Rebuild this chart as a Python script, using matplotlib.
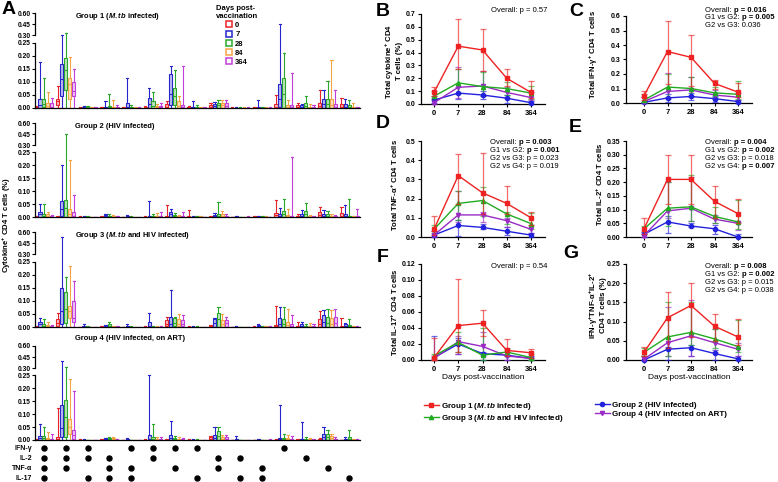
import numpy as np
import matplotlib
matplotlib.use('Agg')
import matplotlib.pyplot as plt
from matplotlib.lines import Line2D
from matplotlib.colors import to_rgba

plt.rcParams['font.family'] = ['Liberation Sans', 'DejaVu Sans']
plt.rcParams['font.weight'] = 'bold'
plt.rcParams['mathtext.fontset'] = 'custom'
plt.rcParams['mathtext.rm'] = 'Liberation Sans:bold'
plt.rcParams['mathtext.bf'] = 'Liberation Sans:bold'
plt.rcParams['mathtext.it'] = 'Liberation Sans:bold:italic'
plt.rcParams['axes.linewidth'] = 0.9

# --- Panel A: box plots per cytokine combination ---
days = ['0', '7', '28', '84', '364']
day_colors = ['#e8242b', '#2626cc', '#2aa82a', '#f4a444', '#c23ddb']
cytokines = ['IFN-γ', 'IL-2', 'TNF-α', 'IL-17']
combo_ifn = [1, 1, 1, 0, 1, 1, 1, 1, 0, 0, 0, 1, 0, 0, 0]
combo_il2 = [1, 1, 1, 1, 0, 1, 0, 0, 1, 1, 0, 0, 1, 0, 0]
combo_tnf = [1, 1, 0, 1, 1, 0, 1, 0, 1, 0, 1, 0, 0, 1, 0]
combo_il17 = [1, 0, 1, 1, 1, 0, 0, 1, 0, 1, 1, 0, 0, 0, 1]
group_titles = ['Group 1 ($\\mathit{M.tb}$ infected)', 'Group 2 (HIV infected)',
                'Group 3 ($\\mathit{M.tb}$ and HIV infected)', 'Group 4 (HIV infected, on ART)']

# rows = 15 combinations, columns = days 0, 7, 28, 84, 364
g1_hi = [[0.008, 0.175, 0.115, 0.06, 0.04], [0.085, 0.31, 0.33, 0.195, 0.15], [0.002, 0.008, 0.006, 0.002, 0.002],
         [0.004, 0.025, 0.055, 0.03, 0.01], [0.004, 0.113, 0.012, 0.005, 0.003], [0.007, 0.075, 0.06, 0.015, 0.02],
         [0.025, 0.16, 0.145, 0.045, 0.16], [0.007, 0.027, 0.012, 0.003, 0.002], [0.02, 0.022, 0.03, 0.03, 0.03],
         [0.003, 0.003, 0.003, 0.003, 0.003], [0.005, 0.03, 0.005, 0.003, 0.002], [0.05, 0.45, 0.21, 0.03, 0.135],
         [0.02, 0.015, 0.045, 0.015, 0.01], [0.07, 0.07, 0.105, 0.185, 0.07], [0.04, 0.035, 0.03, 0.02, 0.005]]
g1_q3 = [[0.005, 0.033, 0.033, 0.02, 0.02], [0.035, 0.17, 0.19, 0.115, 0.10], [0, 0.005, 0.002, 0, 0],
         [0.002, 0.005, 0.008, 0.005, 0.002], [0.002, 0.02, 0.004, 0.002, 0.001], [0.003, 0.04, 0.025, 0.006, 0.008],
         [0.015, 0.13, 0.075, 0.025, 0.01], [0.002, 0.005, 0.003, 0, 0], [0.012, 0.015, 0.02, 0.02, 0.018],
         [0, 0, 0, 0, 0], [0.002, 0.005, 0.002, 0, 0], [0.015, 0.09, 0.115, 0.01, 0.01],
         [0.01, 0.01, 0.02, 0.005, 0.003], [0.02, 0.035, 0.035, 0.035, 0.015], [0.015, 0.015, 0.01, 0.005, 0.002]]
g1_med = [[0.002, 0.01, 0.015, 0.008, 0.005], [0.025, 0.11, 0.145, 0.09, 0.065], [0, 0.002, 0, 0, 0],
          [0, 0.002, 0.003, 0.002, 0], [0, 0.005, 0.001, 0, 0], [0.001, 0.015, 0.008, 0.002, 0.002],
          [0.005, 0.055, 0.045, 0.008, 0.003], [0, 0.002, 0, 0, 0], [0.005, 0.008, 0.01, 0.01, 0.008],
          [0, 0, 0, 0, 0], [0, 0.001, 0, 0, 0], [0.004, 0.035, 0.055, 0.004, 0.003],
          [0.003, 0.004, 0.008, 0.002, 0], [0.006, 0.015, 0.015, 0.01, 0.005], [0.005, 0.005, 0.003, 0.001, 0]]
g1_q1 = [[0, 0, 0.002, 0, 0], [0.012, 0.045, 0.07, 0.035, 0.045], [0, 0, 0, 0, 0], [0, 0, 0, 0, 0], [0, 0, 0, 0, 0],
         [0, 0, 0, 0, 0], [0, 0.01, 0.01, 0, 0], [0, 0, 0, 0, 0], [0, 0, 0, 0, 0], [0, 0, 0, 0, 0], [0, 0, 0, 0, 0],
         [0, 0.005, 0, 0, 0], [0, 0, 0, 0, 0], [0, 0, 0, 0, 0], [0, 0, 0, 0, 0]]

g2_hi = [[0.003, 0.05, 0.052, 0.02, 0.008], [0.005, 0.20, 0.45, 0.22, 0.085], [0.002, 0.003, 0.002, 0.001, 0.001],
         [0.002, 0.01, 0.012, 0.008, 0.005], [0.001, 0.008, 0.002, 0.001, 0.001], [0.003, 0.063, 0.01, 0.015, 0.02],
         [0.045, 0.03, 0.015, 0.008, 0.02], [0.028, 0.003, 0.005, 0.002, 0.001], [0.003, 0.015, 0.058, 0.025, 0.01],
         [0.001, 0.005, 0.001, 0.001, 0.003], [0.005, 0.005, 0.005, 0.002, 0.001], [0.066, 0.035, 0.07, 0.03, 0.23],
         [0.012, 0.028, 0.055, 0.008, 0.005], [0.04, 0.028, 0.025, 0.012, 0.008], [0.04, 0.045, 0.07, 0.005, 0.03]]
g2_q3 = [[0.001, 0.02, 0.012, 0.01, 0.003], [0.002, 0.06, 0.065, 0.03, 0.02], [0, 0, 0, 0, 0],
         [0, 0.008, 0.005, 0.004, 0.002], [0, 0.004, 0, 0, 0], [0.001, 0.005, 0.004, 0.005, 0.004],
         [0.005, 0.02, 0.008, 0.003, 0.004], [0.003, 0.001, 0.002, 0, 0], [0.001, 0.008, 0.012, 0.01, 0.004],
         [0, 0.002, 0, 0, 0], [0.002, 0.002, 0.002, 0, 0], [0.016, 0.01, 0.025, 0.008, 0.004],
         [0.003, 0.01, 0.025, 0.003, 0.002], [0.02, 0.012, 0.01, 0.005, 0.003], [0.015, 0.01, 0.005, 0.002, 0.004]]
g2_med = [[0, 0.01, 0.004, 0.005, 0.001], [0.001, 0.03, 0.035, 0.01, 0.005], [0, 0, 0, 0, 0],
          [0, 0.004, 0.002, 0.002, 0], [0, 0.002, 0, 0, 0], [0, 0.002, 0.001, 0.002, 0.001],
          [0.002, 0.01, 0.003, 0.001, 0.002], [0.001, 0, 0, 0, 0], [0, 0.004, 0.005, 0.004, 0.002],
          [0, 0, 0, 0, 0], [0.001, 0.001, 0.001, 0, 0], [0.006, 0.004, 0.01, 0.003, 0.002],
          [0.001, 0.005, 0.01, 0.001, 0], [0.008, 0.005, 0.004, 0.002, 0.001], [0.005, 0.004, 0.002, 0, 0.001]]
g2_q1 = [[0, 0, 0, 0, 0], [0, 0.005, 0, 0, 0], [0, 0, 0, 0, 0], [0, 0, 0, 0, 0], [0, 0, 0, 0, 0], [0, 0, 0, 0, 0],
         [0, 0, 0, 0, 0], [0, 0, 0, 0, 0], [0, 0, 0, 0, 0], [0, 0, 0, 0, 0], [0, 0, 0, 0, 0], [0, 0, 0, 0, 0],
         [0, 0, 0, 0, 0], [0, 0, 0, 0, 0], [0, 0, 0, 0, 0]]

g3_hi = [[0.003, 0.035, 0.032, 0.018, 0.008], [0.055, 0.53, 0.19, 0.235, 0.175], [0.001, 0.012, 0.002, 0.001, 0.001],
         [0.002, 0.008, 0.02, 0.005, 0.005], [0.001, 0.012, 0.003, 0.001, 0.001], [0.003, 0.052, 0.003, 0.003, 0.003],
         [0.038, 0.14, 0.038, 0.05, 0.045], [0.003, 0.003, 0.003, 0.001, 0.001], [0.008, 0.035, 0.078, 0.05, 0.04],
         [0.001, 0.003, 0.001, 0.001, 0.001], [0.003, 0.012, 0.005, 0.005, 0.002], [0.08, 0.075, 0.075, 0.07, 0.045],
         [0.018, 0.018, 0.012, 0.015, 0.01], [0.06, 0.065, 0.07, 0.065, 0.07], [0.035, 0.015, 0.032, 0.005, 0.003]]
g3_q3 = [[0.001, 0.02, 0.012, 0.006, 0.003], [0.03, 0.15, 0.135, 0.08, 0.10], [0, 0.004, 0, 0, 0],
         [0, 0.003, 0.01, 0.002, 0.002], [0, 0.005, 0, 0, 0], [0.001, 0.018, 0.001, 0.001, 0.001],
         [0.025, 0.04, 0.035, 0.03, 0.028], [0.001, 0.001, 0.001, 0, 0], [0.003, 0.032, 0.055, 0.025, 0.025],
         [0, 0, 0, 0, 0], [0.001, 0.006, 0.002, 0.002, 0], [0.008, 0.035, 0.03, 0.02, 0.01],
         [0.005, 0.01, 0.005, 0.005, 0.004], [0.03, 0.045, 0.04, 0.035, 0.04], [0.005, 0.01, 0.008, 0.002, 0.001]]
g3_med = [[0, 0.01, 0.005, 0.002, 0.001], [0.015, 0.06, 0.07, 0.06, 0.035], [0, 0.001, 0, 0, 0],
          [0, 0.001, 0.005, 0.001, 0], [0, 0.002, 0, 0, 0], [0, 0.005, 0, 0, 0],
          [0.01, 0.01, 0.015, 0.01, 0.01], [0, 0, 0, 0, 0], [0.001, 0.015, 0.03, 0.01, 0.015],
          [0, 0, 0, 0, 0], [0, 0.002, 0.001, 0.001, 0], [0.003, 0.01, 0.01, 0.006, 0.003],
          [0.002, 0.004, 0.002, 0.002, 0.001], [0.01, 0.02, 0.015, 0.012, 0.015], [0.001, 0.004, 0.003, 0, 0]]
g3_q1 = [[0, 0, 0, 0, 0], [0.005, 0.01, 0.015, 0.035, 0.02], [0, 0, 0, 0, 0], [0, 0, 0, 0, 0], [0, 0, 0, 0, 0],
         [0, 0, 0, 0, 0], [0.005, 0, 0.005, 0.005, 0.003], [0, 0, 0, 0, 0], [0, 0, 0, 0, 0], [0, 0, 0, 0, 0],
         [0, 0, 0, 0, 0], [0, 0, 0, 0, 0], [0, 0, 0, 0, 0], [0, 0, 0, 0, 0], [0, 0, 0, 0, 0]]

g4_hi = [[0.003, 0.06, 0.05, 0.03, 0.025], [0.125, 0.40, 0.31, 0.235, 0.19], [0.003, 0.003, 0.001, 0.001, 0.001],
         [0.003, 0.008, 0.01, 0.01, 0.003], [0.001, 0.008, 0.001, 0.001, 0.001], [0.003, 0.25, 0.06, 0.012, 0.01],
         [0.005, 0.075, 0.015, 0.012, 0.008], [0.003, 0.003, 0.002, 0.001, 0.001], [0.015, 0.052, 0.05, 0.018, 0.02],
         [0.001, 0.015, 0.001, 0.001, 0.001], [0.001, 0.005, 0.001, 0.001, 0.003], [0.003, 0.135, 0.025, 0.02, 0.015],
         [0.005, 0.07, 0.012, 0.008, 0.003], [0.008, 0.05, 0.04, 0.025, 0.012], [0.001, 0.012, 0.038, 0.005, 0.003]]
g4_q3 = [[0.001, 0.015, 0.015, 0.008, 0.003], [0.01, 0.135, 0.155, 0.08, 0.04], [0.001, 0.001, 0, 0, 0],
         [0.001, 0.005, 0.006, 0.006, 0.001], [0, 0.004, 0, 0, 0], [0.001, 0.02, 0.01, 0.005, 0.004],
         [0.002, 0.02, 0.006, 0.005, 0.003], [0.001, 0.001, 0, 0, 0], [0.01, 0.02, 0.035, 0.012, 0.012],
         [0, 0.005, 0, 0, 0], [0, 0.002, 0, 0, 0.001], [0.001, 0.008, 0.008, 0.006, 0.005],
         [0.002, 0.005, 0.005, 0.003, 0.001], [0.003, 0.025, 0.025, 0.015, 0.005], [0, 0.004, 0.01, 0.002, 0.001]]
g4_med = [[0, 0.006, 0.008, 0.003, 0.001], [0.003, 0.045, 0.09, 0.05, 0.02], [0, 0, 0, 0, 0],
          [0, 0.002, 0.002, 0.002, 0], [0, 0.002, 0, 0, 0], [0, 0.005, 0.003, 0.002, 0.001],
          [0.001, 0.008, 0.002, 0.002, 0.001], [0, 0, 0, 0, 0], [0.004, 0.008, 0.015, 0.005, 0.005],
          [0, 0.002, 0, 0, 0], [0, 0, 0, 0, 0], [0, 0.003, 0.003, 0.002, 0.002],
          [0.001, 0.002, 0.002, 0.001, 0], [0.001, 0.01, 0.01, 0.006, 0.002], [0, 0.002, 0.004, 0.001, 0]]
g4_q1 = [[0, 0, 0, 0, 0], [0, 0.01, 0.01, 0.025, 0.003], [0, 0, 0, 0, 0], [0, 0, 0, 0, 0], [0, 0, 0, 0, 0],
         [0, 0, 0, 0, 0], [0, 0, 0, 0, 0], [0, 0, 0, 0, 0], [0, 0, 0, 0, 0], [0, 0, 0, 0, 0], [0, 0, 0, 0, 0],
         [0, 0, 0, 0, 0], [0, 0, 0, 0, 0], [0, 0, 0, 0, 0], [0, 0, 0, 0, 0]]

# --- Panels B-G: median with error bars, order G1, G2, G3, G4 ---
group_names = ['Group 1 ($\\mathit{M.tb}$ infected)', 'Group 2 (HIV infected)',
               'Group 3 ($\\mathit{M.tb}$ and HIV infected)', 'Group 4 (HIV infected on ART)']
group_colors = ['#ee2222', '#2222dd', '#22aa22', '#9a2bc4']
group_markers = ['s', 'o', '^', 'v']

b_med = [[0.09, 0.45, 0.42, 0.20, 0.09], [0.03, 0.085, 0.07, 0.045, 0.01],
         [0.06, 0.165, 0.135, 0.12, 0.085], [0.01, 0.13, 0.14, 0.09, 0.05]]
b_lo = [[0.06, 0.27, 0.26, 0.14, 0.05], [0.01, 0.04, 0.04, 0.01, 0.0],
        [0.04, 0.08, 0.06, 0.07, 0.04], [0.0, 0.05, 0.06, 0.05, 0.03]]
b_hi = [[0.13, 0.66, 0.585, 0.27, 0.18], [0.06, 0.13, 0.10, 0.07, 0.02],
        [0.10, 0.27, 0.25, 0.17, 0.14], [0.05, 0.285, 0.26, 0.13, 0.09]]

c_med = [[0.05, 0.355, 0.315, 0.135, 0.075], [0.005, 0.035, 0.045, 0.03, 0.01],
         [0.02, 0.11, 0.10, 0.07, 0.06], [0.01, 0.08, 0.09, 0.055, 0.04]]
c_lo = [[0.02, 0.13, 0.12, 0.10, 0.04], [0.0, 0.01, 0.02, 0.005, 0.0],
        [0.005, 0.04, 0.05, 0.04, 0.03], [0.0, 0.03, 0.04, 0.03, 0.02]]
c_hi = [[0.085, 0.565, 0.47, 0.16, 0.14], [0.04, 0.06, 0.07, 0.045, 0.02],
        [0.065, 0.20, 0.18, 0.11, 0.155], [0.04, 0.21, 0.18, 0.09, 0.07]]

d_med = [[0.04, 0.32, 0.23, 0.175, 0.10], [0.01, 0.06, 0.05, 0.03, 0.01],
         [0.04, 0.175, 0.19, 0.12, 0.07], [0.01, 0.115, 0.115, 0.085, 0.04]]
d_lo = [[0.01, 0.17, 0.12, 0.12, 0.06], [0.0, 0.005, 0.04, 0.01, 0.0],
        [0.02, 0.09, 0.11, 0.07, 0.04], [0.0, 0.08, 0.08, 0.05, 0.02]]
d_hi = [[0.11, 0.43, 0.435, 0.265, 0.13], [0.03, 0.09, 0.07, 0.05, 0.02],
        [0.065, 0.24, 0.26, 0.13, 0.125], [0.03, 0.24, 0.13, 0.10, 0.06]]

e_med = [[0.03, 0.21, 0.21, 0.13, 0.085], [0.01, 0.055, 0.04, 0.03, 0.0],
         [0.03, 0.105, 0.11, 0.075, 0.055], [0.005, 0.095, 0.105, 0.065, 0.05]]
e_lo = [[0.01, 0.12, 0.12, 0.07, 0.05], [0.0, 0.015, 0.035, 0.01, 0.0],
        [0.01, 0.04, 0.06, 0.05, 0.03], [0.0, 0.07, 0.06, 0.05, 0.025]]
e_hi = [[0.07, 0.30, 0.30, 0.185, 0.14], [0.02, 0.075, 0.05, 0.045, 0.01],
        [0.04, 0.20, 0.225, 0.11, 0.135], [0.02, 0.20, 0.22, 0.08, 0.055]]

f_med = [[0.003, 0.043, 0.046, 0.012, 0.009], [0.003, 0.02, 0.008, 0.006, 0.002],
         [0.005, 0.022, 0.006, 0.01, 0.003], [0.002, 0.023, 0.017, 0.005, 0.002]]
f_lo = [[0.0, 0.01, 0.03, 0.005, 0.002], [0.0, 0.008, 0.0, 0.0, 0.0],
        [0.0, 0.01, 0.0, 0.005, 0.0], [0.0, 0.008, 0.005, 0.0, 0.0]]
f_hi = [[0.027, 0.101, 0.063, 0.026, 0.014], [0.03, 0.028, 0.01, 0.01, 0.005],
        [0.008, 0.035, 0.04, 0.013, 0.007], [0.005, 0.03, 0.035, 0.015, 0.004]]

g_med = [[0.02, 0.11, 0.142, 0.088, 0.06], [0.0, 0.028, 0.032, 0.017, 0.003],
         [0.02, 0.06, 0.072, 0.055, 0.035], [0.002, 0.045, 0.063, 0.045, 0.028]]
g_lo = [[0.01, 0.03, 0.06, 0.05, 0.04], [0.0, 0.0, 0.01, 0.0, 0.0],
        [0.01, 0.01, 0.04, 0.03, 0.02], [0.0, 0.01, 0.01, 0.02, 0.01]]
g_hi = [[0.033, 0.178, 0.20, 0.12, 0.107], [0.01, 0.035, 0.04, 0.025, 0.01],
        [0.03, 0.152, 0.15, 0.08, 0.105], [0.01, 0.137, 0.155, 0.08, 0.045]]

W, H = 778, 482
fig = plt.figure(figsize=(W / 100, H / 100), dpi=100)


def px_axes(left, top, right, bottom):
    return fig.add_axes([left / W, 1 - bottom / H, (right - left) / W, (bottom - top) / H])


def ftext(x, y, s, **kw):
    return fig.text(x / W, 1 - y / H, s, **kw)


# broken axis: 0-0.25 linear, short gap, 0.30-0.60 compressed
def fwd(y):
    y = np.asarray(y, dtype=float)
    return np.where(y <= 0.25, y * 256, np.where(y <= 0.30, 64 + (y - 0.25) * 140, 71 + (y - 0.30) * 73.3))


def inv(v):
    v = np.asarray(v, dtype=float)
    return np.where(v <= 64, v / 256, np.where(v <= 71, 0.25 + (v - 64) / 140, 0.30 + (v - 71) / 73.3))


groups_box = [(g1_q1, g1_med, g1_q3, g1_hi), (g2_q1, g2_med, g2_q3, g2_hi),
              (g3_q1, g3_med, g3_q3, g3_hi), (g4_q1, g4_med, g4_q3, g4_hi)]
tops = [13, 123, 232, 346]
bottoms = [108, 217, 327, 440]
offsets = [-0.36, -0.18, 0.0, 0.18, 0.36]
xlim_a = (-0.41, 14.49)

for gi, (q1, med, q3, hi) in enumerate(groups_box):
    ax = px_axes(35, tops[gi], 360, bottoms[gi])
    ax.set_yscale('function', functions=(fwd, inv))
    ax.set_ylim(0, 0.60)
    ax.set_xlim(*xlim_a)
    for d in range(5):
        stats = []
        for c in range(15):
            stats.append({'med': med[c][d], 'q1': q1[c][d], 'q3': q3[c][d],
                          'whislo': 0.0, 'whishi': hi[c][d], 'fliers': []})
        col = day_colors[d]
        pos = [c + offsets[d] for c in range(15)]
        ax.bxp(stats, positions=pos, widths=0.14, patch_artist=True, showfliers=False,
               manage_ticks=False, capwidths=0.1,
               boxprops=dict(facecolor=to_rgba(col, 0.3), edgecolor=col, linewidth=0.8),
               whiskerprops=dict(color=col, linewidth=0.8),
               capprops=dict(color=col, linewidth=0.8),
               medianprops=dict(color=col, linewidth=0.8))
    for s in ['top', 'right']:
        ax.spines[s].set_visible(False)
    ax.spines['left'].set_bounds(0, 0.25)
    ax.plot([0, 0], [0.30, 0.60], transform=ax.get_yaxis_transform(), color='black',
            lw=0.9, clip_on=False)
    ax.set_xticks([])
    ax.set_yticks([0, 0.05, 0.10, 0.15, 0.20, 0.25, 0.30, 0.45, 0.60])
    ax.set_yticklabels(['%.2f' % v for v in [0, 0.05, 0.10, 0.15, 0.20, 0.25, 0.30, 0.45, 0.60]])
    ax.tick_params(axis='y', labelsize=4.8, length=2, width=0.8, pad=1)
    ftext(75, tops[gi] + 3 if gi < 3 else tops[gi] - 7, group_titles[gi], fontsize=5.4,
          va='center', ha='left')

# dot matrix of cytokine combinations
axm = px_axes(35, 442, 360, 482)
axm.set_xlim(*xlim_a)
axm.set_ylim(3.4, -0.6)
axm.axis('off')
for r, combo in enumerate([combo_ifn, combo_il2, combo_tnf, combo_il17]):
    xs = [c for c in range(15) if combo[c]]
    axm.plot(xs, [r] * len(xs), 'o', color='black', markersize=3.6)
    axm.text(-0.55, r, cytokines[r], ha='right', va='center', fontsize=5)

ftext(7, 225, 'Cytokine$^{+}$ CD4 T cells (%)', rotation=90, ha='center', va='center', fontsize=5.6)

# legend for days
day_handles = [Line2D([], [], marker='s', linestyle='none', markerfacecolor='white',
                      markeredgecolor=c, markeredgewidth=1.1, markersize=3.8) for c in day_colors]
fig.legend(day_handles, days, title='Days post-\nvaccination', loc='upper left',
           bbox_to_anchor=(212 / W, 1 - 1 / H), frameon=False, fontsize=5.5,
           title_fontproperties={'weight': 'bold', 'size': 5.5},
           handlelength=0.7, handletextpad=0.5, labelspacing=0.25, borderpad=0)

# --- line panels ---
panels = [
    ('B', (421, 14, 545, 104), b_med, b_lo, b_hi, 0.7, 0.1, '%.1f', 'Total cytokine$^{+}$ CD4\nT cells (%)',
     (393, 61), [[('Overall: p = 0.57', False)]], (491, 10), False),
    ('C', (626, 16, 752, 103), c_med, c_lo, c_hi, 0.6, 0.1, '%.1f', 'Total IFN-γ$^{+}$ CD4 T cells',
     (594, 54), [[('Overall: ', False), ('p = 0.016', True)], [('G1 vs G2: ', False), ('p = 0.005', True)],
                 [('G2 vs G3: 0.036', False)]], (705, 10), False),
    ('D', (421, 141, 545, 237), d_med, d_lo, d_hi, 0.5, 0.1, '%.1f', 'Total TNF-α$^{+}$ CD4 T cells',
     (395, 185), [[('Overall: ', False), ('p = 0.003', True)], [('G1 vs G2: ', False), ('p = 0.001', True)],
                  [('G2 vs G3: p = 0.023', False)], [('G2 vs G4: p = 0.019', False)]], (490, 143), False),
    ('E', (626, 141, 752, 237), e_med, e_lo, e_hi, 0.35, 0.05, '%.2f', 'Total IL-2$^{+}$ CD4 T cells',
     (600, 184), [[('Overall: ', False), ('p = 0.004', True)], [('G1 vs G2: ', False), ('p = 0.002', True)],
                  [('G2 vs G3: p = 0.018', False)], [('G2 vs G4: ', False), ('p = 0.007', True)]], (705, 143), False),
    ('F', (421, 264, 545, 360), f_med, f_lo, f_hi, 0.12, 0.02, '%.2f', 'Total IL-17$^{+}$ CD4 T cells',
     (395, 312), [[('Overall: p = 0.54', False)]], (491, 267), True),
    ('G', (626, 264, 752, 360), g_med, g_lo, g_hi, 0.25, 0.05, '%.2f',
     'IFN-γ$^{+}$TNF-α$^{+}$IL-2$^{+}$\nCD4 T cells (%)',
     (597, 305), [[('Overall: ', False), ('p = 0.008', True)], [('G1 vs G2: ', False), ('p = 0.002', True)],
                  [('G2 vs G3: p = 0.015', False)], [('G2 vs G4: p = 0.038', False)]], (705, 267), True),
]
letter_pos = {'A': (9, 9), 'B': (383, 11), 'C': (576, 12), 'D': (383, 123),
              'E': (575, 127), 'F': (383, 257), 'G': (571, 254)}

for (letter, rect, med, lo, hi, ymax, ystep, fmt, ylab, ylab_pos, notes, note_pos, xlab) in panels:
    ax = px_axes(*rect)
    zero_px = 434 if rect[0] < 600 else 644
    step_px = 24.25 if rect[0] < 600 else 23.5
    ax.set_xlim((rect[0] - zero_px) / step_px, (rect[2] - zero_px) / step_px)
    ax.set_ylim(0, ymax)
    x = np.arange(5)
    for gi in [1, 3, 2, 0]:
        m = np.array(med[gi])
        yerr = [m - np.array(lo[gi]), np.array(hi[gi]) - m]
        ax.errorbar(x, m, yerr=yerr, color=group_colors[gi], ecolor=to_rgba(group_colors[gi], 0.65),
                    marker=group_markers[gi], markersize=3, lw=1.0, elinewidth=0.9, capsize=2,
                    capthick=0.9, clip_on=False, zorder=3 if gi else 4)
    for s in ['top', 'right']:
        ax.spines[s].set_visible(False)
    ax.set_xticks(x)
    ax.set_xticklabels(days)
    yt = np.arange(0, ymax + ystep / 2, ystep)
    ax.set_yticks(yt)
    ax.set_yticklabels([fmt % v for v in yt])
    ax.tick_params(labelsize=5, length=2.5, width=0.8, pad=1.5)
    ax.tick_params(axis='x', labelsize=5.5)
    ftext(ylab_pos[0], ylab_pos[1], ylab, rotation=90, ha='center', va='center', fontsize=5.6,
          linespacing=1.05)
    if xlab:
        ax.set_xlabel('Days post-vaccination', fontsize=6, labelpad=1)
    # p-value notes, bold parts chained after regular parts
    for li, line in enumerate(notes):
        t = ftext(note_pos[0], note_pos[1] + li * 7.8, line[0][0], fontsize=5.5, va='center', ha='left',
                  fontweight='bold' if line[0][1] else 'normal')
        for txt, bold in line[1:]:
            t = ax.annotate(txt, xy=(1, 0), xycoords=t, va='bottom', ha='left', fontsize=5.5,
                            fontweight='bold' if bold else 'normal', annotation_clip=False)

for letter, (lx, ly) in letter_pos.items():
    ftext(lx, ly, letter, fontsize=14, ha='center', va='center', fontweight='bold')

# legend for groups
grp_handles = [Line2D([], [], color=group_colors[i], marker=group_markers[i], markersize=3, lw=1.0)
               for i in range(4)]
fig.legend([grp_handles[0], grp_handles[2]], [group_names[0], group_names[2]], loc='upper left',
           bbox_to_anchor=(420 / W, 1 - 397 / H), frameon=False, fontsize=5.8, handlelength=1.8,
           handletextpad=0.3, labelspacing=0.15, borderpad=0)
fig.legend([grp_handles[1], grp_handles[3]], [group_names[1], group_names[3]], loc='upper left',
           bbox_to_anchor=(591 / W, 1 - 397 / H), frameon=False, fontsize=5.8, handlelength=1.8,
           handletextpad=0.3, labelspacing=0.15, borderpad=0)

fig.savefig('out.png', dpi=100)
